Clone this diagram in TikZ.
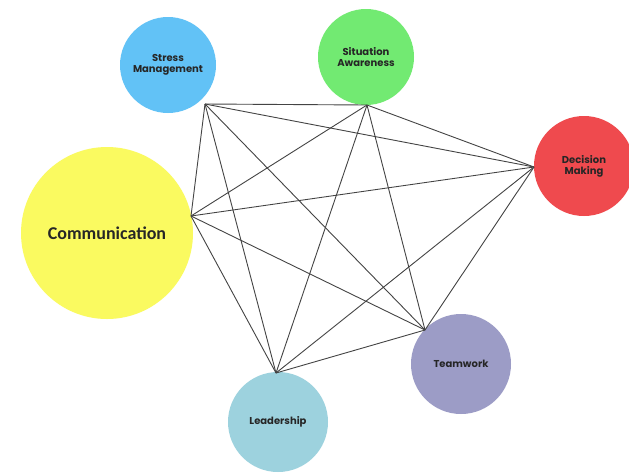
\documentclass[tikz,border=0pt]{standalone}
\usepackage{fontspec}
\setmainfont{Poppins}
\newfontfamily\commfont{Carlito}
\definecolor{cstress}{HTML}{62C2F6}
\definecolor{csit}{HTML}{72EA72}
\definecolor{cdec}{HTML}{EF4A4E}
\definecolor{ccomm}{HTML}{FAFA60}
\definecolor{cteam}{HTML}{9C9CC6}
\definecolor{clead}{HTML}{9DD2DE}
\definecolor{cline}{HTML}{444444}
\tikzset{
  ball/.style={circle, draw=none, inner sep=0pt, align=center,
    font=\fontsize{10}{11}\selectfont\bfseries, text=black!85},
  link/.style={draw=cline, line width=0.9pt}
}
\begin{document}
\begin{tikzpicture}[x=1pt,y=-1pt]
\useasboundingbox (0,0) rectangle (629,472);
\fill[white] (0,0) rectangle (629,472);
\node[ball, fill=cstress, minimum size=96pt] (stress) at (168,65) {Stress\\Management};
\node[ball, fill=csit, minimum size=96pt] (sit) at (366,57) {Situation\\Awareness};
\node[ball, fill=cdec, minimum size=100pt] (dec) at (584,166) {Decision\\Making};
\node[ball, fill=ccomm, minimum size=172pt, font=\commfont\fontsize{18}{20}\selectfont\bfseries] (comm) at (107,233) {Communication};
\node[ball, fill=cteam, minimum size=100pt] (team) at (461,364) {Teamwork};
\node[ball, fill=clead, minimum size=100pt] (lead) at (278,422) {Leadership};
\coordinate (S) at (205,104);
\coordinate (A) at (367,105);
\coordinate (D) at (534,167);
\coordinate (C) at (191,216);
\coordinate (T) at (425,330);
\coordinate (L) at (276,373);
\foreach \a/\b in {S/A,S/D,S/C,S/T,S/L,A/D,A/C,A/T,A/L,D/C,D/T,D/L,C/T,C/L,T/L}
  \draw[link] (\a) -- (\b);
\end{tikzpicture}
\end{document}
